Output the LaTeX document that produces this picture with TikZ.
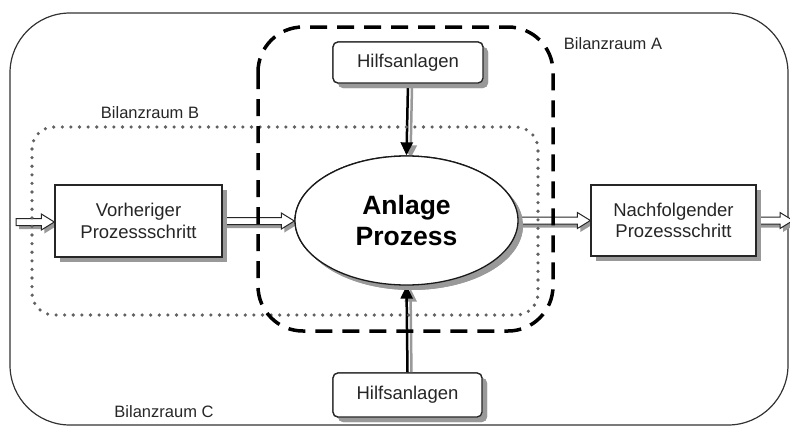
\documentclass[tikz,border=0pt]{standalone}
\usepackage{fontspec}
\setmainfont{Liberation Sans}
\usetikzlibrary{shapes.geometric,shadows,arrows.meta,calc}

% outline of a hollow flow arrow between \p1 (start) and \p2 (end), offset by #1,#2
\newcommand\flowshape[2]{%
  (\x1+#1,\y1+#2+3.5pt) -- (\x2+#1-13pt,\y1+#2+3.5pt) -- (\x2+#1-13pt,\y1+#2+8pt)
  -- (\x2+#1,\y1+#2) -- (\x2+#1-13pt,\y1+#2-8pt) -- (\x2+#1-13pt,\y1+#2-3.5pt)
  -- (\x1+#1,\y1+#2-3.5pt) -- cycle}
\newcommand\flowarrow[2]{%
  \fill[black!40] let \p1=(#1), \p2=(#2) in \flowshape{3pt}{-3.5pt};
  \filldraw[flowline] let \p1=(#1), \p2=(#2) in \flowshape{0pt}{0pt};
}

\begin{document}
\begin{tikzpicture}[x=1pt,y=-1pt,
  labeltext/.style={text=black!85, font=\fontsize{16.5}{19}\selectfont},
  shade box/.style={drop shadow={shadow xshift=5pt, shadow yshift=-5pt,
      fill=black!40, opacity=1}},
  stepbox/.style={draw=black!85, line width=1.3pt, fill=white, shade box,
      align=center, text=black!85, inner sep=0pt,
      font=\fontsize{18.5}{21.7}\selectfont},
  auxbox/.style={stepbox, rounded corners=5pt},
  process/.style={ellipse, draw=black!90, line width=1.3pt, fill=white, shade box,
      align=center, inner sep=0pt, minimum width=223pt, minimum height=129pt,
      font=\bfseries\fontsize{26.5}{31}\selectfont},
  flowline/.style={draw=black!85, line width=1pt, fill=white},
  feed/.style={line width=2.5pt, -{Triangle[length=13pt,width=12pt]}},
  feedshadow/.style={feed, black!40},
  outerbound/.style={draw=black!80, line width=1.2pt, rounded corners=60pt},
  bound A/.style={draw=black, line width=3.5pt, dash pattern=on 17pt off 10pt,
      rounded corners=45pt},
  bound B/.style={draw=black!62, line width=3.6pt, line cap=round,
      dash pattern=on 0pt off 8.6pt, rounded corners=22pt}
]
\useasboundingbox (0,0) rectangle (790,426);

% system boundary C
\draw[outerbound] (10,13) rectangle (788,425);

% nodes
\node[stepbox, minimum width=167pt, minimum height=72pt] (prev) at (138.5,221)
  {Vorheriger\\Prozessschritt};
\node[stepbox, minimum width=165pt, minimum height=71pt] (next) at (673.5,220.5)
  {Nachfolgender\\Prozessschritt};
\node[process] (proc) at (406.5,220.5) {Anlage\\Prozess};
\node[auxbox, minimum width=150pt, minimum height=41pt] (auxtop) at (408,62.5)
  {Hilfsanlagen};
\node[auxbox, minimum width=149pt, minimum height=44pt] (auxbot) at (407.5,395)
  {Hilfsanlagen};

\coordinate (entry) at (16,222);
\coordinate (exit) at (793,222);

% material flow
\flowarrow{entry}{prev.west}
\flowarrow{prev.east}{proc.west}
\flowarrow{proc.east}{next.west}
\flowarrow{next.east}{exit}

% auxiliary supply
\draw[feedshadow] ([shift={(4,3)}]auxtop.south) -- ([shift={(4,3)}]proc.north);
\draw[feed] (auxtop.south) -- (proc.north);
\draw[feedshadow] ([shift={(4,3)}]auxbot.north) -- ([shift={(4,3)}]proc.south);
\draw[feed] (auxbot.north) -- (proc.south);

% system boundaries B and A
\draw[bound B] (32,127) rectangle (538,315);
\draw[bound A] (258,27) rectangle (553,331);

% redraw nodes above the boundaries
\node[stepbox, minimum width=167pt, minimum height=72pt] at (prev) {Vorheriger\\Prozessschritt};
\node[stepbox, minimum width=165pt, minimum height=71pt] at (next) {Nachfolgender\\Prozessschritt};
\node[process] at (proc) {Anlage\\Prozess};
\node[auxbox, minimum width=150pt, minimum height=41pt] at (auxtop) {Hilfsanlagen};
\node[auxbox, minimum width=149pt, minimum height=44pt] at (auxbot) {Hilfsanlagen};

% labels
\node[labeltext] (labA) at (613,44) {Bilanzraum A};
\node[labeltext] (labB) at (150,113) {Bilanzraum B};
\node[labeltext] (labC) at (164,412) {Bilanzraum C};
\end{tikzpicture}
\end{document}
